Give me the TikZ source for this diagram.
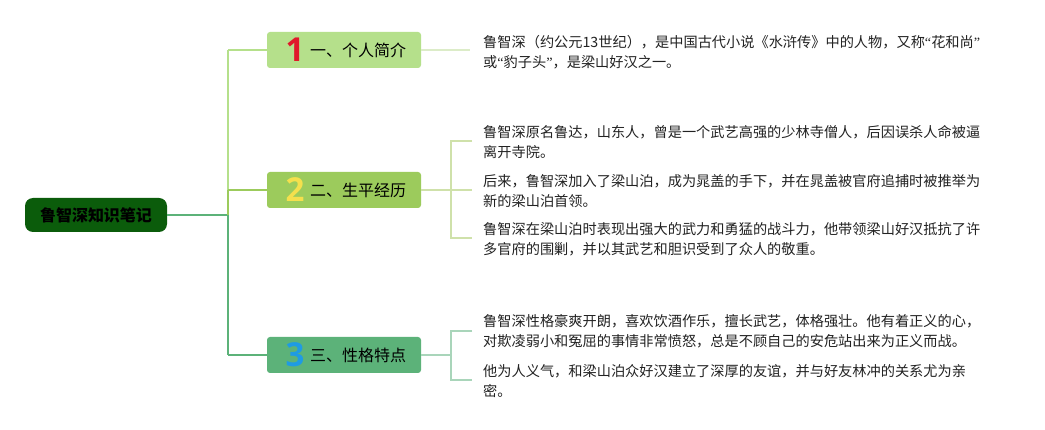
\documentclass[tikz,border=0pt]{standalone}
\usepackage{fontspec}
\setmainfont{Noto Sans CJK SC}
\newfontfamily\numfont{Open Sans}
\newfontfamily\qfont{Liberation Serif}
\newcommand{\myLq}{{\qfont “}}
\newcommand{\myRq}{{\qfont ”}}
\definecolor{rootc}{HTML}{0B5C0B}
\definecolor{bA}{HTML}{B5E08B}
\definecolor{bB}{HTML}{9CCB5C}
\definecolor{bC}{HTML}{5CB279}
\definecolor{lA}{HTML}{DCECC8}
\definecolor{lB}{HTML}{CFE1AA}
\definecolor{lC}{HTML}{A9D5BA}
\definecolor{nA}{HTML}{E0192B}
\definecolor{nB}{HTML}{F4E04D}
\definecolor{nC}{HTML}{1F9BE3}
\definecolor{txt}{HTML}{222222}
\begin{document}
\begin{tikzpicture}[x=1pt,y=-1pt,
  rootbox/.style={fill=rootc, rounded corners=8pt, minimum width=142pt, minimum height=34pt, inner sep=0pt,
     font=\fontsize{16}{16}\selectfont\bfseries, text=black},
  branchbox/.style={rounded corners=3pt, minimum width=154pt, minimum height=36pt, inner sep=0pt},
  numtext/.style={font=\numfont\fontsize{33}{33}\selectfont\bfseries, inner sep=0pt},
  labtext/.style={font=\fontsize{16}{16}\selectfont, text=black, inner sep=0pt, anchor=west},
  para/.style={align=left, anchor=west, inner sep=0pt, text=txt, font=\fontsize{14.2}{19.5}\selectfont},
  trunk/.style={line width=2pt},
  leaf/.style={line width=1.5pt}
]
\path[fill=white] (0,0) rectangle (1045,430);
\useasboundingbox (0,0) rectangle (1045,430);

% root
\node[rootbox] (root) at (96,215) {鲁智深知识笔记};

% branches
\node[branchbox, fill=bA] (b1) at (344,50) {};
\node[branchbox, fill=bB] (b2) at (344,190) {};
\node[branchbox, fill=bC] (b3) at (344,355) {};
\node[numtext, text=nA] (n1) at (295,50) {1};
\node[numtext, text=nB] (n2) at (295,190) {2};
\node[numtext, text=nC] (n3) at (295,355) {3};
\node[labtext] (l1) at (310,50) {一、个人简介};
\node[labtext] (l2) at (310,190) {二、生平经历};
\node[labtext] (l3) at (310,355) {三、性格特点};

% trunk coordinates
\coordinate (j1) at (228,50);
\coordinate (j2) at (228,190);
\coordinate (j0) at (228,215);
\coordinate (j3) at (228,355);

\draw[trunk, bC] (root.east) -- (j0);
\draw[trunk, bA] (j1) -- (j2);
\draw[trunk, bB] (j2) -- (j0);
\draw[trunk, bC] (j0) -- (j3);
\draw[trunk, bA] (j1) -- (b1.west);
\draw[trunk, bB] (j2) -- (b2.west);
\draw[trunk, bC] (j3) -- (b3.west);

% leaves text
\node[para] (t1) at (483,52) {鲁智深（约公元13世纪），是中国古代小说《水浒传》中的人物，又称\myLq 花和尚\myRq\\或\myLq 豹子头\myRq，是梁山好汉之一。};
\node[para] (t21) at (483,142) {鲁智深原名鲁达，山东人，曾是一个武艺高强的少林寺僧人，后因误杀人命被逼\\离开寺院。};
\node[para] (t22) at (483,191) {后来，鲁智深加入了梁山泊，成为晁盖的手下，并在晁盖被官府追捕时被推举为\\新的梁山泊首领。};
\node[para] (t23) at (483,239) {鲁智深在梁山泊时表现出强大的武力和勇猛的战斗力，他带领梁山好汉抵抗了许\\多官府的围剿，并以其武艺和胆识受到了众人的敬重。};
\node[para] (t31) at (483,331) {鲁智深性格豪爽开朗，喜欢饮酒作乐，擅长武艺，体格强壮。他有着正义的心，\\对欺凌弱小和冤屈的事情非常愤怒，总是不顾自己的安危站出来为正义而战。};
\node[para] (t32) at (483,381) {他为人义气，和梁山泊众好汉建立了深厚的友谊，并与好友林冲的关系尤为亲\\密。};

% leaf connectors
\coordinate (e1) at (470,50);
\draw[leaf, lA] (b1.east) -- (e1);

\coordinate (k2) at (451,190);
\coordinate (k2a) at (451,141);
\coordinate (k2c) at (451,238);
\coordinate (e21) at (472,141);
\coordinate (e22) at (472,190);
\coordinate (e23) at (472,238);
\draw[leaf, lB] (b2.east) -- (k2);
\draw[leaf, lB] (e21) -- (k2a) -- (k2c) -- (e23);
\draw[leaf, lB] (k2) -- (e22);

\coordinate (k3) at (451,355);
\coordinate (k3a) at (451,331);
\coordinate (k3b) at (451,380);
\coordinate (e31) at (472,331);
\coordinate (e32) at (472,380);
\draw[leaf, lC] (b3.east) -- (k3);
\draw[leaf, lC] (e31) -- (k3a) -- (k3b) -- (e32);
\end{tikzpicture}
\end{document}
